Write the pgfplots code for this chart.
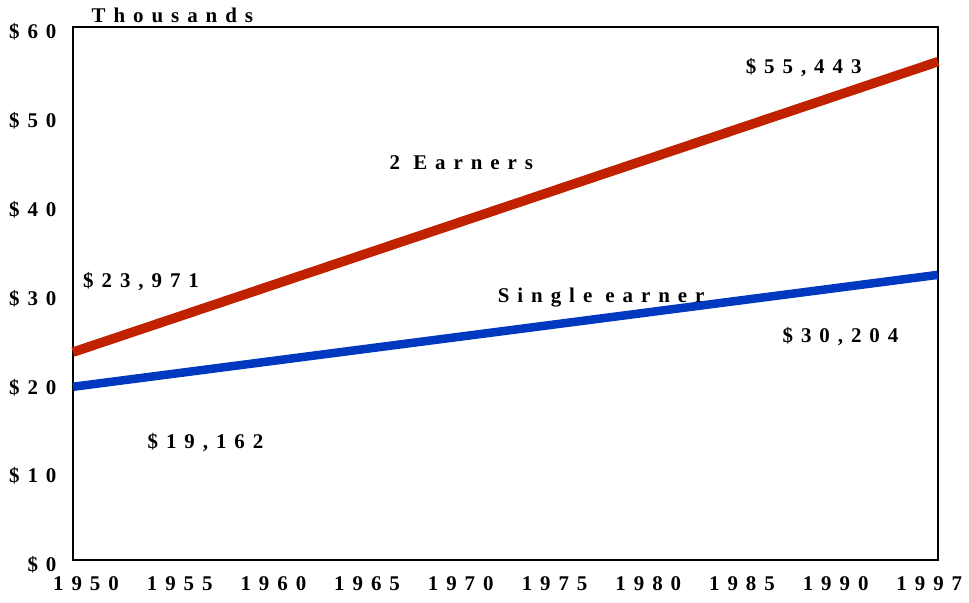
\documentclass[border=0pt]{standalone}
\usepackage{fontspec}
\setmainfont{Liberation Serif}
\newfontfamily\ls[LetterSpace=38]{Liberation Serif}
\usepackage{pgfplots}
\pgfplotsset{compat=1.18}
\definecolor{redline}{RGB}{192,34,0}
\definecolor{blueline}{RGB}{0,56,192}
\newcommand{\lab}{\ls\bfseries\fontsize{21}{23}\selectfont}
\begin{document}
\begin{tikzpicture}[x=1bp,y=1bp]
\begin{axis}[
  scale only axis,
  width=865bp, height=533bp,
  xmin=1950, xmax=1997, ymin=0, ymax=60,
  xtick={1950.6,1955.69,1960.78,1965.87,1970.96,1976.06,1981.15,1986.24,1991.33,1996.42},
  xticklabels={1950,1955,1960,1965,1970,1975,1980,1985,1990,1997},
  ytick={0,10,20,30,40,50,60},
  yticklabels={\$0,\$10,\$20,\$30,\$40,\$50,\$60},
  major tick length=0pt,
  tick label style={font=\lab},
  xticklabel style={yshift=-13bp, xshift=2bp},
  yticklabel style={yshift=-5bp, xshift=-13bp},
  axis line style={line width=1.3bp},
  clip=false,
  /pgf/number format/assume math mode=true,
]
\addplot[redline, line width=9.5bp] coordinates {(1950,23.4) (1997,56.1)};
\addplot[blueline, line width=8.5bp] coordinates {(1950,19.5) (1997,32.1)};
\node[font=\lab] at (axis cs:1955.4,61.35) {Thousands};
\node[font=\lab] at (axis cs:1953.7,31.3) {\$23,971};
\node[font=\lab] at (axis cs:1971.1,44.7) {2 Earners};
\node[font=\lab] at (axis cs:1978.7,29.6) {Single earner};
\node[font=\lab] at (axis cs:1989.7,55.4) {\$55,443};
\node[font=\lab] at (axis cs:1991.7,25.1) {\$30,204};
\node[font=\lab] at (axis cs:1957.2,13.2) {\$19,162};
\end{axis}
\pgfresetboundingbox
\useasboundingbox ([xshift=-73bp,yshift=-43bp]current axis.south west) rectangle ([xshift=31bp,yshift=27bp]current axis.north east);
\end{tikzpicture}
\end{document}
